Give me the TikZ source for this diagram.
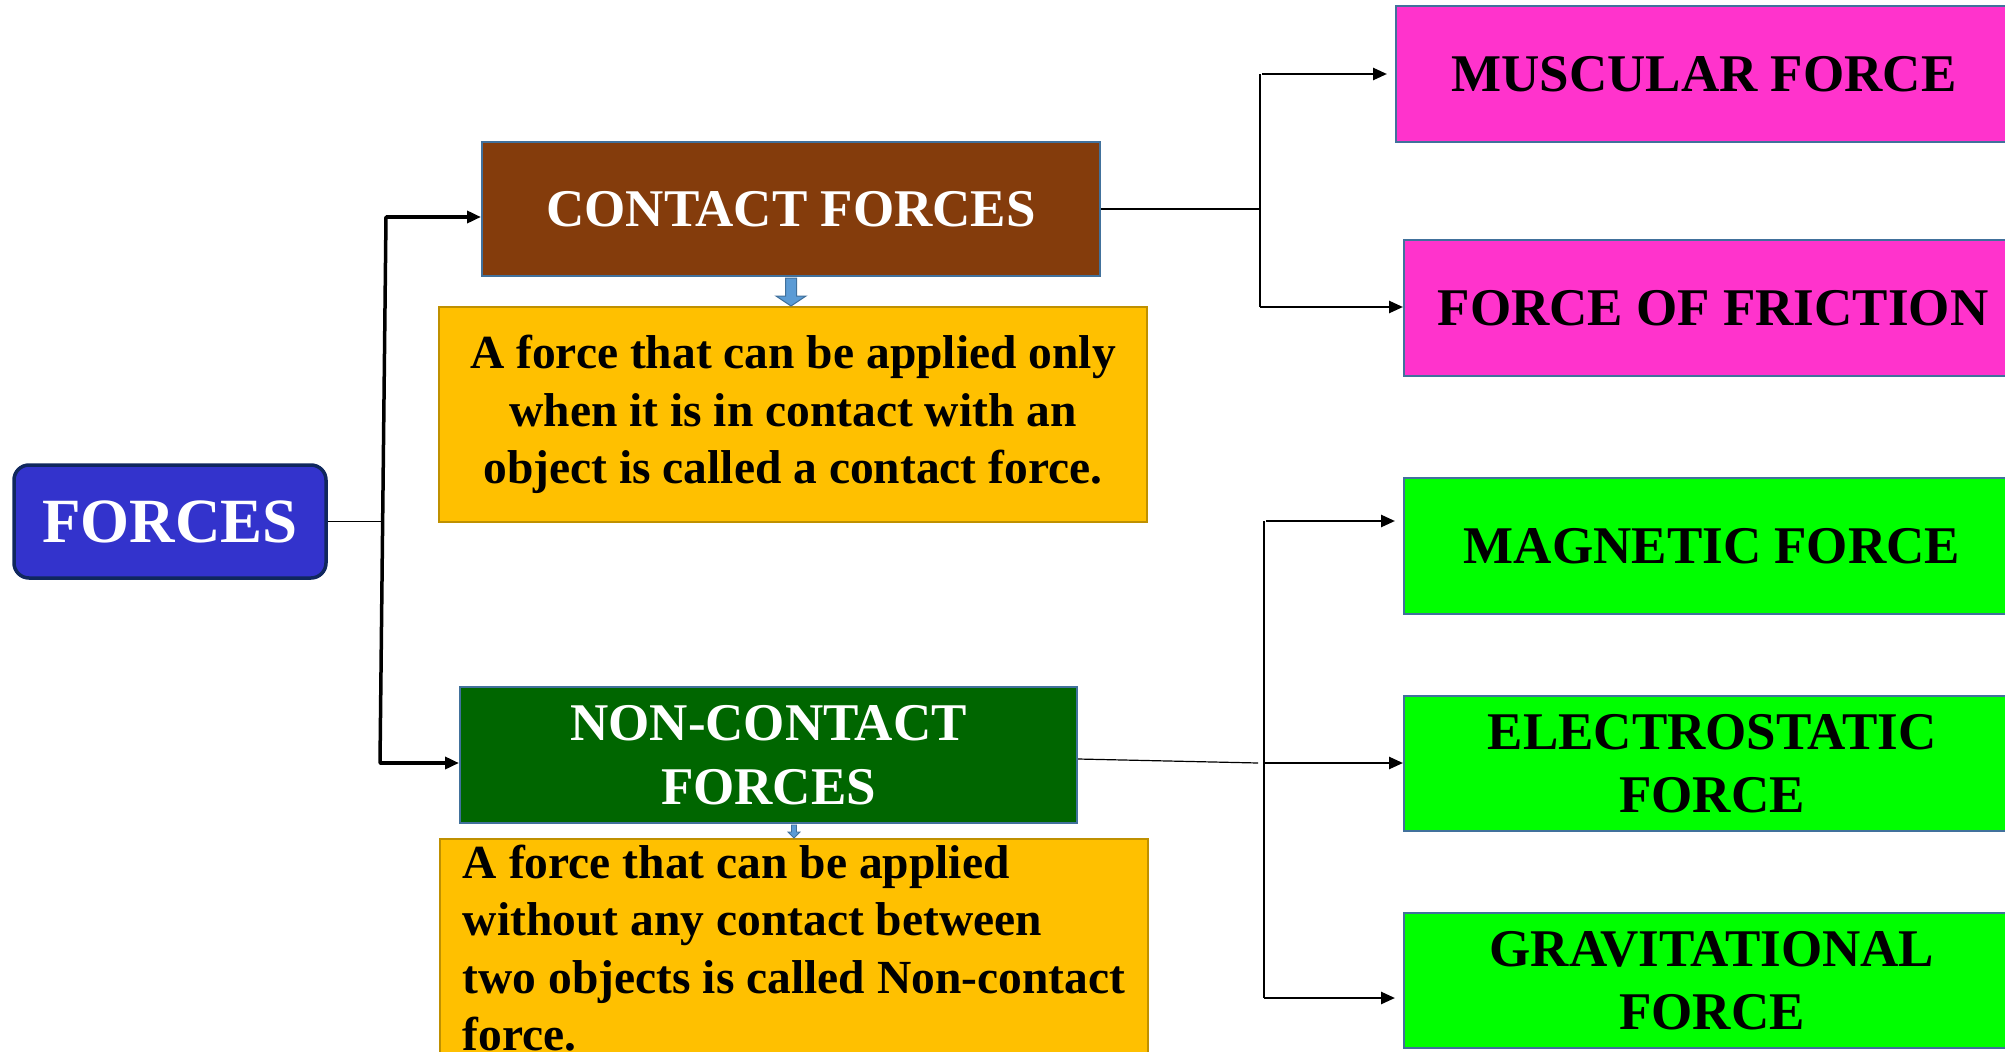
\documentclass[tikz,border=0pt]{standalone}
\usepackage{fontspec}
\setmainfont{Liberation Serif}
\usetikzlibrary{arrows.meta,calc}

\definecolor{rootfill}{HTML}{3333CC}
\definecolor{rootedge}{HTML}{10275E}
\definecolor{contactfill}{HTML}{843C0C}
\definecolor{noncontactfill}{HTML}{006600}
\definecolor{descfill}{HTML}{FFC000}
\definecolor{descedge}{HTML}{BF9000}
\definecolor{pinkfill}{HTML}{FF33CC}
\definecolor{greenfill}{HTML}{00FF00}
\definecolor{boxedge}{HTML}{41719C}
\definecolor{pointerfill}{HTML}{5B9BD5}

\tikzset{
  bigfont/.style={font=\bfseries\fontsize{53}{63.5}\selectfont},
  descfont/.style={font=\bfseries\fontsize{47.5}{57.5}\selectfont},
  basebox/.style={draw=boxedge, line width=2pt, inner sep=0pt, align=center, bigfont},
  rootbox/.style={draw=rootedge, line width=3.5pt, fill=rootfill, rounded corners=15pt,
    inner sep=0pt, text=white, font=\bfseries\fontsize{63}{70}\selectfont,
    minimum width=312pt, minimum height=113pt},
  catbox/.style={basebox, text=white, minimum width=618pt, minimum height=134pt},
  descbox/.style={draw=descedge, line width=2pt, fill=descfill, descfont},
  leafbox/.style={basebox, text=black, minimum width=616pt, minimum height=136pt},
  thinline/.style={line width=1.2pt},
  trunk/.style={line width=3.5pt, -{Triangle[length=14pt,width=12pt]}},
  branch/.style={line width=2.6pt, -{Triangle[length=14pt,width=12pt]}},
  pointer/.style={fill=pointerfill, draw=boxedge, line width=1pt, line join=miter},
}

\begin{document}
\begin{tikzpicture}[x=1pt,y=-1pt]
\fill[white] (0,0) rectangle (2005,1052);
\clip (0,0) rectangle (2005,1052);

% root
\node[rootbox] (forces) at (170,521.5) {FORCES};

% the two categories
\node[catbox, fill=contactfill] (contact) at (791,209) {CONTACT FORCES};
\node[catbox, fill=noncontactfill, minimum width=617pt, minimum height=136pt]
  (noncontact) at (768.5,755) {NON-CONTACT\\FORCES};

% definitions
\node[descbox, align=center, minimum width=708pt, minimum height=215pt]
  (cdesc) at (793,414.5)
  {A force that can be applied only\\when it is in contact with an\\object is called a contact force.};
\node[descbox, anchor=north west, align=left, minimum width=708pt,
  inner xsep=0pt, inner ysep=6pt] (ndesc) at (439,838)
  {A force that can be applied\\without any contact between\\two objects is called Non-contact\\force.};

% kinds of force
\node[leafbox, fill=pinkfill] (muscular) at (1704,74) {MUSCULAR FORCE};
\node[leafbox, fill=pinkfill, minimum width=618pt] (friction) at (1713,308) {FORCE OF FRICTION};
\node[leafbox, fill=greenfill] (magnetic) at (1712,546) {MAGNETIC FORCE};
\node[leafbox, fill=greenfill, minimum height=135pt] (electro) at (1712,763.5) {ELECTROSTATIC\\FORCE};
\node[leafbox, fill=greenfill, minimum height=135pt] (grav) at (1712,980.5) {GRAVITATIONAL\\FORCE};

% junction points
\coordinate (ttop) at (386,217);
\coordinate (tbot) at (380,763);
\coordinate (tmid) at (383,521.5);
\coordinate (ca) at (1260,209);
\coordinate (ctop) at (1260,74);
\coordinate (cbot) at (1260,307);
\coordinate (na) at (1262,763);
\coordinate (ntop) at (1264,521);
\coordinate (nbot) at (1264,998);

% root to categories
\draw[thinline] (forces.east) -- (tmid);
\draw[line width=3.5pt, line cap=round] (ttop) -- (tbot);
\draw[trunk] (ttop) -- (contact.west |- ttop);
\draw[trunk] (tbot) -- (noncontact.west |- tbot);

% contact forces to its kinds
\draw[thinline] (contact.east) -- (ca);
\draw[thinline] (ctop) -- (cbot);
\draw[branch] ([xshift=2pt]ctop) -- ([xshift=-8pt]muscular.west |- ctop);
\draw[branch] (cbot) -- (friction.west |- cbot);

% non-contact forces to its kinds
\draw[thinline] ([yshift=-4pt]noncontact.east) -- ([xshift=-4pt]na);
\draw[thinline] (ntop) -- (nbot);
\draw[branch] ([xshift=2pt]ntop) -- ([xshift=-8pt]magnetic.west |- ntop);
\draw[branch] ([xshift=2pt]na) -- (electro.west |- na);
\draw[branch] (nbot) -- ([xshift=-8pt]grav.west |- nbot);

% small block arrows to the definitions
\path (contact.south) coordinate (p1) (cdesc.north) coordinate (q1);
\draw[pointer] ($(p1)+(-5.5,1)$) -- ($(p1)+(-5.5,19)$) -- ($(p1)+(-15,19)$)
  -- (q1 -| p1) -- ($(p1)+(15,19)$) -- ($(p1)+(5.5,19)$) -- ($(p1)+(5.5,1)$) -- cycle;
\path (noncontact.south -| ndesc.north) coordinate (p2) (ndesc.north) coordinate (q2);
\draw[pointer, line width=0.8pt] ($(p2)+(-2.5,1)$) -- ($(p2)+(-2.5,8)$) -- ($(p2)+(-6,8)$)
  -- (q2) -- ($(p2)+(6,8)$) -- ($(p2)+(2.5,8)$) -- ($(p2)+(2.5,1)$) -- cycle;
\end{tikzpicture}
\end{document}
